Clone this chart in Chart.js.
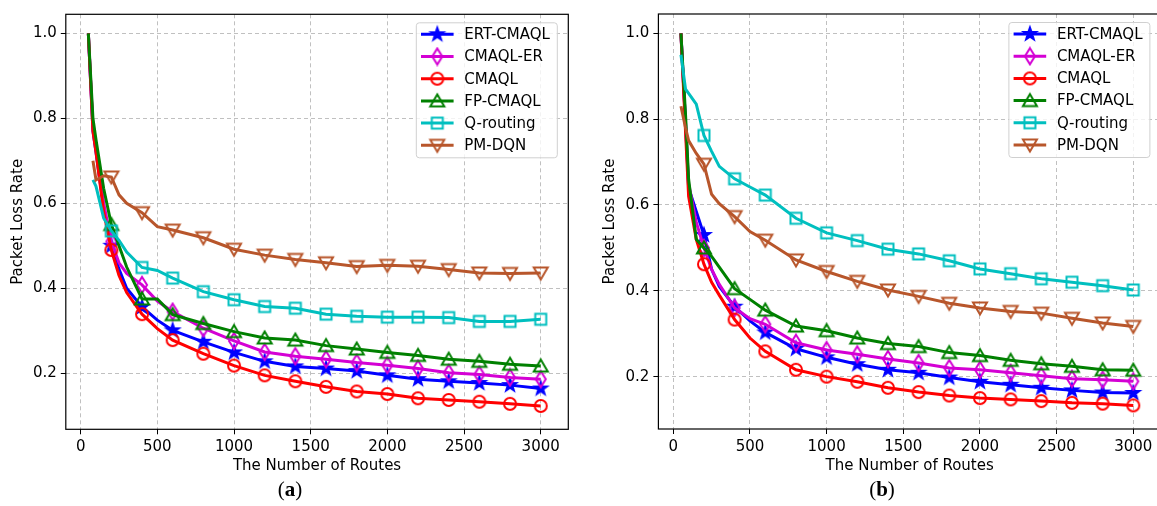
<!DOCTYPE html>
<html>
<head>
<meta charset="utf-8">
<script src="https://cdn.jsdelivr.net/npm/chart.js@4.4.0/dist/chart.umd.min.js"></script>
<style>
html, body { margin: 0; padding: 0; background: #fff; overflow: hidden; width: 1157px; height: 506px; }
.panel { position: absolute; top: 0; height: 506px; overflow: hidden; }
#wrapA { left: 0; width: 580px; }
#wrapB { left: 580px; width: 577px; }
.cap { position: absolute; top: 477px; font-family: "Liberation Serif", "DejaVu Serif", serif; font-size: 21px; color: #000; transform: translateX(-50%); }
</style>
</head>
<body>
<div class="panel" id="wrapA"><canvas id="chartA" width="580" height="506"></canvas></div>
<div class="panel" id="wrapB"><canvas id="chartB" width="600" height="506"></canvas></div>
<div class="cap" style="left:290px">(<b>a</b>)</div>
<div class="cap" style="left:882px">(<b>b</b>)</div>
<script>
// x positions of the samples (number of routes)
var routes = [50, 80, 100, 150, 200, 250, 300, 400, 500, 600, 800, 1000, 1200, 1400, 1600, 1800, 2000, 2200, 2400, 2600, 2800, 3000];
var seriesNames = ['ERT-CMAQL', 'CMAQL-ER', 'CMAQL', 'FP-CMAQL', 'Q-routing', 'PM-DQN'];
var xTicks = [0, 500, 1000, 1500, 2000, 2500, 3000];
var yTicks = [0.2, 0.4, 0.6, 0.8, 1.0];

// panel (a)
var ertA   = [1.0, 0.77, 0.72, 0.59, 0.50, 0.445, 0.40, 0.356, 0.325, 0.301, 0.274, 0.249, 0.228, 0.216, 0.211, 0.205, 0.195, 0.186, 0.181, 0.177, 0.172, 0.164];
var erA    = [1.0, 0.78, 0.73, 0.60, 0.51, 0.46, 0.435, 0.408, 0.37, 0.345, 0.306, 0.276, 0.25, 0.24, 0.233, 0.225, 0.219, 0.211, 0.201, 0.197, 0.19, 0.186];
var cmaqlA = [1.0, 0.77, 0.72, 0.58, 0.49, 0.43, 0.39, 0.339, 0.305, 0.278, 0.246, 0.218, 0.195, 0.181, 0.168, 0.157, 0.151, 0.141, 0.137, 0.133, 0.128, 0.123];
var fpA    = [1.0, 0.80, 0.75, 0.635, 0.55, 0.50, 0.45, 0.375, 0.375, 0.338, 0.317, 0.298, 0.283, 0.278, 0.265, 0.257, 0.249, 0.242, 0.233, 0.228, 0.221, 0.217];
var qA     = [null, 0.655, 0.64, 0.565, 0.535, 0.513, 0.485, 0.449, 0.442, 0.424, 0.392, 0.373, 0.357, 0.353, 0.339, 0.334, 0.332, 0.332, 0.331, 0.322, 0.322, 0.327];
var pmA    = [null, 0.70, 0.655, 0.665, 0.662, 0.62, 0.60, 0.578, 0.545, 0.537, 0.519, 0.492, 0.478, 0.468, 0.460, 0.451, 0.454, 0.452, 0.444, 0.436, 0.435, 0.436];

// panel (b)
var ertB   = [1.0, 0.79, 0.64, 0.585, 0.53, 0.45, 0.41, 0.363, 0.33, 0.303, 0.265, 0.245, 0.229, 0.216, 0.209, 0.198, 0.188, 0.181, 0.174, 0.168, 0.163, 0.162];
var erB    = [1.0, 0.79, 0.65, 0.56, 0.50, 0.45, 0.415, 0.36, 0.335, 0.322, 0.279, 0.262, 0.252, 0.241, 0.232, 0.220, 0.216, 0.209, 0.202, 0.195, 0.193, 0.189];
var cmaqlB = [1.0, 0.77, 0.62, 0.52, 0.462, 0.42, 0.39, 0.333, 0.29, 0.259, 0.216, 0.200, 0.188, 0.174, 0.164, 0.156, 0.150, 0.147, 0.143, 0.139, 0.137, 0.133];
var fpB    = [1.0, 0.81, 0.66, 0.52, 0.50, 0.48, 0.455, 0.405, 0.38, 0.355, 0.318, 0.307, 0.290, 0.277, 0.270, 0.256, 0.249, 0.238, 0.230, 0.224, 0.216, 0.215];
var qB     = [0.95, 0.87, 0.86, 0.835, 0.762, 0.725, 0.69, 0.661, 0.642, 0.623, 0.569, 0.535, 0.517, 0.497, 0.486, 0.470, 0.451, 0.440, 0.428, 0.420, 0.412, 0.402];
var pmB    = [0.83, 0.78, 0.75, 0.72, 0.695, 0.625, 0.603, 0.573, 0.538, 0.518, 0.472, 0.445, 0.422, 0.402, 0.387, 0.371, 0.360, 0.352, 0.348, 0.336, 0.325, 0.317];

var colors = ['#0000ff', '#d400d4', '#ff0000', '#008000', '#00bfbf', '#b8562b'];
var shapes = ['star', 'diamond', 'circle', 'triUp', 'square', 'triDown'];
var FONT = 'DejaVu Sans';

function makeMarker(shape, color){
    var s = 20, m = s / 2;
    var c = document.createElement('canvas');
    c.width = s; c.height = s;
    var g = c.getContext('2d');
    g.strokeStyle = color;
    g.fillStyle = color;
    g.lineWidth = 2;
    g.beginPath();
    if (shape == 'circle') {
        g.arc(m, m, 6, 0, Math.PI * 2);
    } else if (shape == 'square') {
        g.rect(m - 5.5, m - 5.5, 11, 11);
    } else if (shape == 'triUp') {
        g.moveTo(m, m - 6.5); g.lineTo(m + 7, m + 5.5); g.lineTo(m - 7, m + 5.5); g.closePath();
    } else if (shape == 'triDown') {
        g.moveTo(m, m + 6.5); g.lineTo(m + 7, m - 5.5); g.lineTo(m - 7, m - 5.5); g.closePath();
    } else if (shape == 'diamond') {
        g.moveTo(m, m - 8); g.lineTo(m + 5, m); g.lineTo(m, m + 8); g.lineTo(m - 5, m); g.closePath();
    } else if (shape == 'star') {
        for (var k = 0; k < 10; k++) {
            var r = k % 2 ? 2.6 : 6.5;
            var a = -Math.PI / 2 + k * Math.PI / 5;
            if (k == 0) g.moveTo(m + r * Math.cos(a), m + r * Math.sin(a));
            else g.lineTo(m + r * Math.cos(a), m + r * Math.sin(a));
        }
        g.closePath();
        g.fill();
    }
    g.stroke();
    return c;
}

var markers = shapes.map(function(s, i){ return makeMarker(s, colors[i]); });

function FramePlugin(){
    return {
        id: 'frameLegend',
        afterDraw: function(chart){
            var ctx = chart.ctx, a = chart.chartArea;
            ctx.save();
            ctx.strokeStyle = '#000';
            ctx.lineWidth = 1.2;
            ctx.strokeRect(a.left, a.top, a.right - a.left, a.bottom - a.top);

            // legend box, upper right
            var boxR = a.right - 11, boxL = boxR - 141, boxT = a.top + 8.5, boxB = boxT + 135;
            ctx.fillStyle = 'rgba(255,255,255,0.8)';
            ctx.strokeStyle = '#d0d0d0';
            ctx.lineWidth = 1;
            ctx.beginPath();
            ctx.roundRect(boxL, boxT, boxR - boxL, boxB - boxT, 3);
            ctx.fill();
            ctx.stroke();
            ctx.font = '15px "' + FONT + '"';
            ctx.textBaseline = 'middle';
            ctx.textAlign = 'left';
            for (var i = 0; i < seriesNames.length; i++) {
                var y = boxT + 11.5 + i * 22.2;
                ctx.strokeStyle = colors[i];
                ctx.lineWidth = 3;
                ctx.beginPath();
                ctx.moveTo(boxL + 4.7, y);
                ctx.lineTo(boxL + 37.3, y);
                ctx.stroke();
                ctx.drawImage(markers[i], boxL + 21 - markers[i].width / 2, y - markers[i].height / 2);
                ctx.fillStyle = '#000';
                ctx.fillText(seriesNames[i], boxL + 48, y + 1);
            }
            ctx.restore();
        }
    };
}

function LossChart(id, series, geom){
    var datasets = series.map(function(vals, i){
        return {
            label: seriesNames[i],
            data: routes.map(function(r, j){ return {x: r, y: vals[j]}; }),
            borderColor: colors[i],
            backgroundColor: colors[i],
            borderWidth: 3,
            tension: 0,
            pointStyle: markers[i],
            pointRadius: function(c){
                var v = vals[c.dataIndex];
                return (v !== null && routes[c.dataIndex] % 200 === 0) ? 7 : 0;
            },
            order: 5 - i
        };
    });
    var grid = {
        color: 'rgba(176,176,176,0.8)',
        lineWidth: 1,
        drawTicks: true,
        tickLength: 5,
        tickColor: '#000',
        tickWidth: 1,
        tickBorderDash: []
    };
    var border = {display: false, dash: [4, 3]};
    var ctx = document.getElementById(id).getContext('2d');
    new Chart(ctx, {
        type: 'line',
        data: {datasets: datasets},
        plugins: [FramePlugin()],
        options: {
            responsive: false,
            animation: false,
            events: [],
            layout: {padding: {left: 0, top: geom.padTop, right: geom.padRight, bottom: 20}},
            plugins: {legend: {display: false}, tooltip: {enabled: false}},
            scales: {
                x: {
                    type: 'linear',
                    min: -97,
                    max: 3180,
                    border: border,
                    grid: grid,
                    afterBuildTicks: function(s){ s.ticks = xTicks.map(function(v){ return {value: v}; }); },
                    afterFit: function(s){ s.height = geom.xAxisH; },
                    ticks: {
                        padding: 4,
                        maxRotation: 0,
                        color: '#000',
                        font: {family: FONT, size: 15},
                        callback: function(v){ return String(v); }
                    },
                    title: {
                        display: true,
                        text: 'The Number of Routes',
                        color: '#000',
                        font: {family: FONT, size: 15, lineHeight: 1.2},
                        padding: {top: 0, bottom: 11}
                    }
                },
                y: {
                    type: 'linear',
                    min: geom.yMin,
                    max: geom.yMax,
                    border: border,
                    grid: grid,
                    afterBuildTicks: function(s){ s.ticks = yTicks.map(function(v){ return {value: v}; }); },
                    afterFit: function(s){ s.width = geom.yAxisW; },
                    ticks: {
                        padding: 4,
                        color: '#000',
                        font: {family: FONT, size: 15},
                        callback: function(v){ return Number(v).toFixed(1); }
                    },
                    title: {
                        display: true,
                        text: 'Packet Loss Rate',
                        color: '#000',
                        font: {family: FONT, size: 15, lineHeight: 1.2},
                        padding: {top: geom.yTitlePad, bottom: 0}
                    }
                }
            }
        }
    });
}

LossChart('chartA', [ertA, erA, cmaqlA, fpA, qA, pmA],
    {yMin: 0.068, yMax: 1.045, yAxisW: 65.8, padTop: 14.3, padRight: 11.7, xAxisH: 56.7, yTitlePad: 9});
LossChart('chartB', [ertB, erB, cmaqlB, fpB, qB, pmB],
    {yMin: 0.078, yMax: 1.045, yAxisW: 78.4, padTop: 14, padRight: 19.1, xAxisH: 57, yTitlePad: 21});
</script>
</body>
</html>
